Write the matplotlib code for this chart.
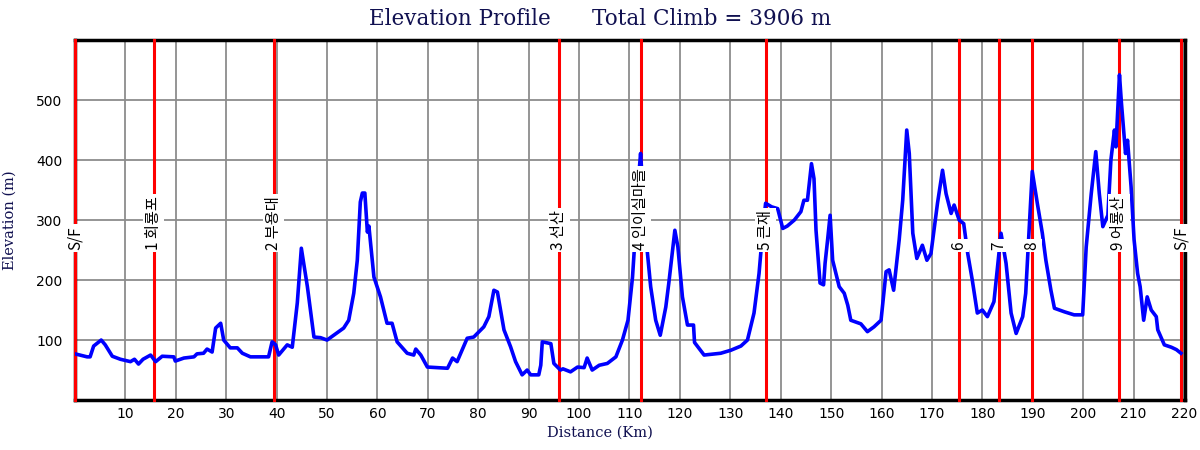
import numpy as np
import matplotlib
matplotlib.use('Agg')
import matplotlib.pyplot as plt

# elevation profile
dist = [0, 2.4, 3.0, 3.7, 5.2, 6.0, 7.4, 9.0, 11.0, 11.8, 12.6, 13.5, 15.0, 16.0, 17.3, 19.6, 19.9,
        21.6, 23.6, 24.2, 25.5, 26.2, 27.2, 27.9, 28.9, 29.5, 30.8, 32.2, 33.2, 34.8, 38.4, 39.1, 39.8,
        40.4, 42.1, 43.1, 44.1, 44.9, 46.1, 47.4, 48.7, 50.0, 53.3, 54.3, 55.3, 56.0, 56.6, 57.0, 57.5,
        58.0, 58.3, 59.3, 60.6, 61.9, 62.9, 63.9, 65.9, 67.2, 67.6, 68.6, 69.9, 73.9, 74.9, 75.8, 77.8,
        79.1, 81.1, 82.1, 83.1, 83.8, 85.1, 86.4, 87.4, 88.7, 89.7, 90.4, 92.0, 92.4, 92.7, 94.4, 95.0,
        96.3, 96.8, 98.3, 99.7, 101.0, 101.6, 102.6, 104.0, 105.6, 107.3, 108.6, 109.7, 110.6, 111.2,
        111.8, 112.2, 112.8, 113.5, 114.2, 115.2, 116.1, 117.2, 117.8, 119.0, 119.6, 120.5, 121.5, 122.7,
        122.9, 124.8, 128.1, 130.1, 132.1, 133.4, 134.7, 135.7, 136.4, 137.0, 138.2, 139.4, 140.4, 141.3,
        142.7, 144.0, 144.6, 145.3, 146.1, 146.6, 147.0, 147.8, 148.5, 148.8, 149.3, 149.8, 150.3, 151.6,
        152.6, 153.3, 153.9, 155.9, 157.2, 158.5, 159.9, 160.9, 161.5, 162.4, 163.5, 164.2, 165.0, 165.5,
        166.2, 167.0, 168.1, 169.0, 169.8, 171.1, 172.1, 172.8, 173.8, 174.4, 175.4, 176.3, 177.1, 178.0,
        179.0, 180.0, 181.0, 182.3, 183.7, 184.7, 185.7, 186.7, 188.0, 188.6, 189.3, 189.9, 190.9, 191.9,
        192.6, 193.6, 194.3, 196.3, 198.2, 199.9, 200.6, 201.6, 202.5, 203.2, 203.9, 204.9, 205.5, 206.2,
        206.5, 207.2, 207.6, 208.2, 208.4, 208.8, 209.5, 210.1, 210.8, 211.3, 212.0, 212.7, 213.5, 214.5,
        214.8, 216.1, 217.5, 218.5, 219.4]
elev = [77, 72, 72, 90, 100, 92, 73, 68, 64, 68, 60, 68, 75, 64, 73, 72, 65,
        70, 72, 77, 78, 85, 80, 120, 128, 100, 87, 87, 78, 72, 72, 97, 92,
        75, 92, 88, 162, 253, 189, 105, 104, 100, 120, 133, 178, 233, 330, 345, 345,
        280, 290, 205, 172, 128, 128, 97, 78, 75, 85, 75, 55, 53, 70, 64, 103,
        105, 122, 139, 183, 180, 117, 89, 64, 42, 50, 42, 42, 58, 97, 94, 61,
        50, 52, 47, 55, 54, 70, 50, 58, 61, 72, 100, 133, 205, 283,
        370, 411, 330, 250, 189, 133, 108, 155, 195, 283, 255, 172, 125, 125,
        96, 75, 78, 83, 90, 100, 145, 211, 280, 328, 322, 319, 286, 290,
        300, 314, 333, 333, 394, 369, 283, 195, 192, 228, 267, 308, 233, 189,
        178, 158, 133, 127, 114, 122, 133, 214, 217, 183, 267, 333, 450, 411,
        278, 236, 258, 233, 244, 328, 383, 344, 311, 325, 300, 294, 244, 200,
        145, 150, 139, 164, 278, 228, 145, 111, 139, 178, 289, 381, 328, 278,
        233, 183, 153, 147, 142, 142, 255, 344, 414, 344, 289, 308, 400, 450,
        422, 542, 494, 433, 411, 433, 356, 267, 211, 189, 133, 172, 150, 139,
        117, 92, 88, 84, 78]

# checkpoints
cp_km = [0, 15.6, 39.4, 96.0, 112.2, 137.0, 175.3, 183.3, 189.8, 207.1, 219.4]
cp_names = ['S/F', '1 회룡포', '2 부용대', '3 선산', '4 인이실마을', '5 큰재',
            '6', '7', '8', '9 어룡산', 'S/F']

total_climb = 3906
navy = '#101050'

fig = plt.figure(figsize=(12, 4.5), dpi=100)
ax = fig.add_axes([0.0625, 0.111, 0.925, 0.8])

ax.plot(dist, elev, color='blue', lw=2.6, zorder=4, solid_joinstyle='round')

for km, name in zip(cp_km, cp_names):
    ax.axvline(km, color='red', lw=2.2, zorder=3, clip_on=False)
    ax.text(km, 250, name, rotation=90, ha='center', va='bottom', fontsize=11,
            family=['Noto Sans CJK KR', 'DejaVu Sans'], zorder=6,
            bbox=dict(facecolor='white', edgecolor='none', pad=1.5))

ax.set_xlim(0, 220.2)
ax.set_ylim(0, 600)
ax.set_xticks(range(10, 221, 10))
ax.set_yticks(range(100, 501, 100))
ax.grid(True, color='#8c8c8c', lw=1.3, zorder=1)
ax.set_axisbelow(True)
ax.tick_params(length=0, labelsize=10, pad=5)
ax.tick_params(axis='y', pad=9)

for s in ax.spines.values():
    s.set_linewidth(2.5)
    s.set_color('black')

# title and x label are centred on the figure, not the axes
fig.text(0.5, 0.958, 'Elevation Profile      Total Climb = %d m' % total_climb,
         ha='center', va='center', family='DejaVu Serif', fontsize=15.5, color=navy)
ax.set_xlabel('Distance (Km)', family='DejaVu Serif', fontsize=10.5, color=navy, labelpad=4)
ax.xaxis.set_label_coords(0.473, -0.07)
ax.set_ylabel('Elevation (m)', family='DejaVu Serif', fontsize=10.5, color=navy, labelpad=14)

fig.savefig('out.png', dpi=100)
